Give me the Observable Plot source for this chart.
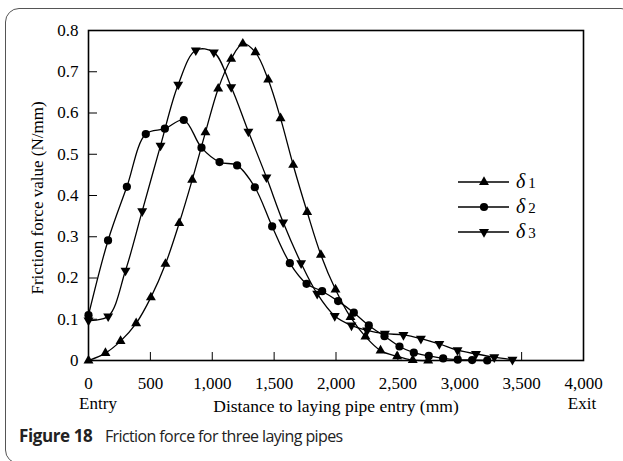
<!DOCTYPE html>
<html>
<head>
<meta charset="utf-8">
<script src="https://cdn.jsdelivr.net/npm/d3@7"></script>
<script src="https://cdn.jsdelivr.net/npm/@observablehq/plot@0.6"></script>
<style>
  html, body { margin: 0; padding: 0; background: #fff; overflow: hidden; }
  #wrap { position: relative; width: 623px; height: 461px; overflow: hidden; }
  #border { position: absolute; left: 5px; top: 8px; width: 630px; height: 456px; border: 1px solid #555; border-radius: 14px; box-sizing: border-box; }
  #chart { position: absolute; left: 0; top: 0; }
  .lbl { position: absolute; font-family: "Liberation Serif", serif; font-size: 17px; color: #000; white-space: nowrap; }
  #ylabel { left: 38px; top: 198px; transform: translate(-50%, -50%) rotate(-90deg); }
  #xlabel { left: 336px; top: 406px; transform: translate(-50%, -50%); font-size: 17.5px; }
  #entry { left: 98px; top: 404px; transform: translate(-50%, -50%); }
  #exit { left: 582px; top: 404px; transform: translate(-50%, -50%); }
  #caption { position: absolute; left: 19px; top: 435px; transform: translateY(-50%); font-family: "Open Sans", sans-serif; font-size: 16px; letter-spacing: -0.6px; color: #222; white-space: nowrap; }
  #caption b { font-weight: 700; font-size: 17px; letter-spacing: -0.4px; margin-right: 9px; }
  #legend { position: absolute; left: 0; top: 0; }
</style>
</head>
<body>
<div id="wrap">
  <div id="border"></div>
  <div id="chart"></div>
  <svg id="legend" width="623" height="461"></svg>
  <div class="lbl" id="ylabel">Friction force value (N/mm)</div>
  <div class="lbl" id="xlabel">Distance to laying pipe entry (mm)</div>
  <div class="lbl" id="entry">Entry</div>
  <div class="lbl" id="exit">Exit</div>
  <div id="caption"><b>Figure 18</b> Friction force for three laying pipes</div>
</div>
<script>
// ---- data ----
const seriesNames = ["δ1", "δ2", "δ3"];
const d1X = [0,137,259,385,504,622,733,838,945,1048,1153,1247,1349,1452,1552,1654,1767,1878,1996,2117,2238,2360,2494,2620,2745];
const d1Y = [0,0.018,0.047,0.09,0.153,0.234,0.333,0.438,0.553,0.659,0.731,0.768,0.747,0.681,0.587,0.474,0.36,0.256,0.172,0.105,0.058,0.024,0.01,0.001,0];
const d2X = [0,158,310,463,617,770,913,1059,1201,1344,1484,1627,1762,1888,2017,2144,2265,2392,2513,2629,2750,2866,2984,3100,3222];
const d2Y = [0.11,0.291,0.421,0.549,0.562,0.583,0.516,0.481,0.473,0.42,0.325,0.236,0.186,0.168,0.144,0.116,0.085,0.059,0.034,0.019,0.011,0.005,0.002,0.001,0];
const d3X = [0,159,299,434,582,725,867,1013,1153,1292,1438,1573,1718,1848,1990,2125,2252,2395,2545,2686,2835,2982,3131,3279,3426];
const d3Y = [0.097,0.107,0.218,0.362,0.521,0.669,0.752,0.747,0.663,0.555,0.444,0.335,0.236,0.162,0.108,0.085,0.073,0.065,0.062,0.053,0.04,0.025,0.016,0.008,0.002];
const xTicks = [0,500,1000,1500,2000,2500,3000,3500,4000];
const xTickLabels = ["0","500","1,000","1,500","2,000","2,500","3,000","3,500","4,000"];
const yTicks = [0,0.1,0.2,0.3,0.4,0.5,0.6,0.7,0.8];
const yTickLabels = ["0","0.1","0.2","0.3","0.4","0.5","0.6","0.7","0.8"];

const toRows = (xs, ys) => xs.map((x, i) => ({x, y: ys[i]}));
const s1 = toRows(d1X, d1Y), s2 = toRows(d2X, d2Y), s3 = toRows(d3X, d3Y);

const lineOpts = {x: "x", y: "y", curve: "catmull-rom", stroke: "#000", strokeWidth: 1.3};
const chart = Plot.plot({
  width: 623, height: 420,
  marginLeft: 88, marginRight: 40, marginTop: 30, marginBottom: 60,
  style: {fontFamily: "Liberation Serif, serif", fontSize: "17px", color: "#000", background: "transparent", overflow: "visible"},
  x: {domain: [0, 4000]},
  y: {domain: [0, 0.8]},
  marks: [
    Plot.axisX({ticks: xTicks, tickFormat: (d, i) => xTickLabels[i], tickSize: -8, tickPadding: 24, label: null, stroke: "#000"}),
    Plot.axisY({ticks: yTicks, tickFormat: (d, i) => yTickLabels[i], tickSize: -9, tickPadding: 19, label: null, stroke: "#000"}),
    Plot.line(s1, lineOpts),
    Plot.line(s2, lineOpts),
    Plot.line(s3, lineOpts),
    Plot.dot(s1, {x: "x", y: "y", symbol: "triangle", r: 3.7, fill: "#000", stroke: "none"}),
    Plot.dot(s2, {x: "x", y: "y", symbol: "circle", r: 4.1, fill: "#000", stroke: "none"}),
    Plot.dot(s3, {x: "x", y: "y", symbol: "triangle", rotate: 180, r: 3.7, fill: "#000", stroke: "none"}),
    Plot.frame({stroke: "#000", strokeWidth: 1.6})
  ]
});
document.getElementById("chart").appendChild(chart);

// ---- legend (inside plot, top right) ----
const leg = d3.select("#legend");
const legSyms = [d3.symbolTriangle, d3.symbolCircle, d3.symbolTriangle];
const legRot = [0, 0, 180];
const legSize = [Math.PI * 3.7 * 3.7, Math.PI * 4.1 * 4.1, Math.PI * 3.7 * 3.7];
seriesNames.forEach((name, i) => {
  const y = 182 + i * 25;
  const g = leg.append("g");
  g.append("line").attr("x1", 458).attr("x2", 509).attr("y1", y).attr("y2", y).attr("stroke", "#000").attr("stroke-width", 1.3);
  g.append("path").attr("d", d3.symbol(legSyms[i], legSize[i])()).attr("transform", `translate(484,${y}) rotate(${legRot[i]})`).attr("fill", "#000");
  const t = g.append("text").attr("x", 516).attr("y", y + 6).attr("fill", "#000");
  t.append("tspan").attr("font-family", "Liberation Serif, serif").attr("font-style", "italic").attr("font-size", 20).text(name.slice(0, 1));
  t.append("tspan").attr("dx", 3).attr("font-family", "Liberation Serif, serif").attr("font-size", 15).text(name.slice(1));
});
</script>
</body>
</html>
